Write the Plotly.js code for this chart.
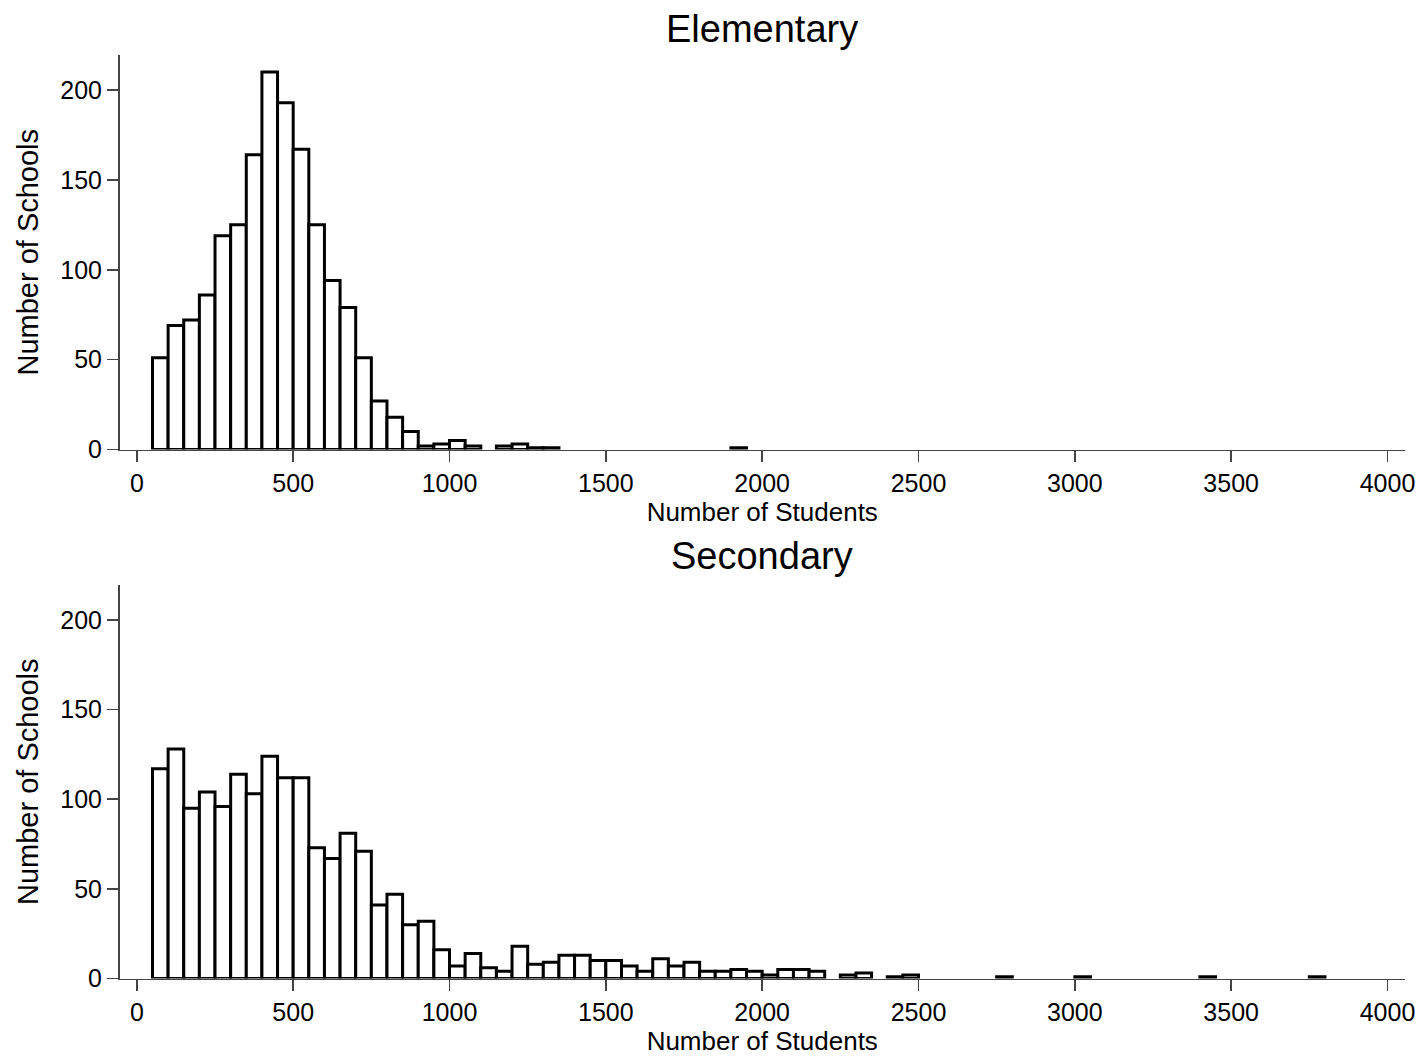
<!DOCTYPE html>
<html>
<head>
<meta charset="utf-8">
<script src="https://cdn.plot.ly/plotly-3.0.1.min.js"></script>
<style>
  html, body { margin: 0; padding: 0; background: #ffffff; }
  #chart { width: 1425px; height: 1056px; }
</style>
</head>
<body>
<div id="chart"></div>
<script>
// Histogram bins: 50-student wide, first bin starts at 50 students
const binWidth = 50;
const firstBinStart = 50;

// Number of schools per enrolment bin (bin i covers [50 + 50*i, 100 + 50*i))
const elementaryCounts = [
  51, 69, 72, 86, 119, 125, 164, 210, 193, 167,
  125, 94, 79, 51, 27, 18, 10, 2, 3, 5,
  2, 0, 2, 3, 1, 1, 0, 0, 0, 0,
  0, 0, 0, 0, 0, 0, 0, 1
];

const secondaryCounts = [
  117, 128, 95, 104, 96, 114, 103, 124, 112, 112,
  73, 67, 81, 71, 41, 47, 30, 32, 16, 7,
  14, 6, 4, 18, 8, 9, 13, 13, 10, 10,
  7, 4, 11, 7, 9, 4, 4, 5, 4, 2,
  5, 5, 4, 0, 2, 3, 0, 1, 2, 0,
  0, 0, 0, 0, 1, 0, 0, 0, 0, 1,
  0, 0, 0, 0, 0, 0, 0, 1, 0, 0,
  0, 0, 0, 0, 1
];

const panelTitles = ["Elementary", "Secondary"];
const xAxisTitle = "Number of Students";
const yAxisTitle = "Number of Schools";
const xTickValues = [0, 500, 1000, 1500, 2000, 2500, 3000, 3500, 4000];
const yTickValues = [0, 50, 100, 150, 200];

function binStarts(counts) {
  return counts.map((_, i) => firstBinStart + i * binWidth);
}
function nonZero(counts) {
  return counts.map(c => (c === 0 ? null : c));
}

const barStyle = {
  type: "bar",
  width: binWidth,
  offset: 0,
  marker: { color: "#ffffff", line: { color: "#000000", width: 3 } },
  hoverinfo: "x+y",
  showlegend: false
};

const traces = [
  Object.assign({}, barStyle, {
    x: binStarts(elementaryCounts),
    y: nonZero(elementaryCounts),
    xaxis: "x", yaxis: "y"
  }),
  Object.assign({}, barStyle, {
    x: binStarts(secondaryCounts),
    y: nonZero(secondaryCounts),
    xaxis: "x2", yaxis: "y2"
  })
];

const W = 1425, H = 1056;
const plotLeft = 119.5, plotRight = 1405;
const xDomain = [plotLeft / W, plotRight / W];
const topPanel = [55, 449.5];
const botPanel = [585, 978.5];
function yDom(p) { return [1 - p[1] / H, 1 - p[0] / H]; }

const fontFamily = "Liberation Sans, Arial, sans-serif";
const axisCommon = {
  showgrid: false,
  zeroline: false,
  showline: true,
  linecolor: "#444444",
  linewidth: 1.5,
  ticks: "outside",
  ticklen: 11,
  tickwidth: 1.5,
  tickcolor: "#444444",
  tickfont: { family: fontFamily, size: 25, color: "#000000" },
  automargin: false,
  fixedrange: true
};

function xAxis(anchor) {
  return Object.assign({}, axisCommon, {
    domain: xDomain,
    anchor: anchor,
    range: [-55.5, 4056],
    tickvals: xTickValues,
    ticktext: xTickValues.map(String),
    title: { text: xAxisTitle, font: { family: fontFamily, size: 26, color: "#000000" }, standoff: 1 }
  });
}
function yAxis(anchor, dom) {
  return Object.assign({}, axisCommon, {
    domain: dom,
    anchor: anchor,
    range: [0, 219.5],
    tickvals: yTickValues,
    ticktext: yTickValues.map(String),
    title: { text: yAxisTitle, font: { family: fontFamily, size: 29, color: "#000000" }, standoff: 13 }
  });
}

const layout = {
  width: W,
  height: H,
  margin: { l: 0, r: 0, t: 0, b: 0 },
  paper_bgcolor: "#ffffff",
  plot_bgcolor: "#ffffff",
  bargap: 0,
  font: { family: fontFamily, color: "#000000" },
  xaxis: xAxis("y"),
  yaxis: yAxis("x", yDom(topPanel)),
  xaxis2: xAxis("y2"),
  yaxis2: yAxis("x2", yDom(botPanel)),
  annotations: [
    {
      text: panelTitles[0], xref: "paper", yref: "paper",
      x: (xDomain[0] + xDomain[1]) / 2, y: 1 - 29 / H,
      xanchor: "center", yanchor: "middle", showarrow: false,
      font: { family: fontFamily, size: 38, color: "#000000" }
    },
    {
      text: panelTitles[1], xref: "paper", yref: "paper",
      x: (xDomain[0] + xDomain[1]) / 2, y: 1 - 556 / H,
      xanchor: "center", yanchor: "middle", showarrow: false,
      font: { family: fontFamily, size: 38, color: "#000000" }
    }
  ]
};

Plotly.newPlot("chart", traces, layout, { displayModeBar: false, staticPlot: true });
</script>
</body>
</html>
